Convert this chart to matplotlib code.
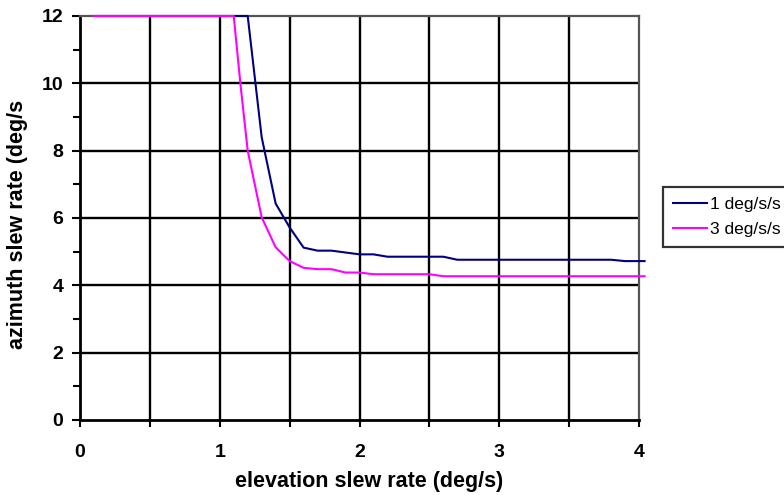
import numpy as np
import matplotlib.pyplot as plt

plt.rcParams['font.family'] = ['Liberation Sans', 'DejaVu Sans']

# elevation slew rate (deg/s) / azimuth slew rate (deg/s)
el_1 = [0.1, 1.2, 1.3, 1.4, 1.5, 1.6, 1.7, 1.8, 2.0, 2.1, 2.2, 2.6, 2.7, 3.8, 3.9, 4.04]
az_1 = [12, 12, 8.4, 6.43, 5.72, 5.12, 5.03, 5.03, 4.92, 4.92, 4.85, 4.85, 4.76, 4.76, 4.72, 4.72]

el_3 = [0.1, 1.1, 1.15, 1.2, 1.3, 1.4, 1.5, 1.6, 1.7, 1.8, 1.9, 2.0, 2.1, 2.5, 2.6, 4.04]
az_3 = [12, 12, 9.9, 8.0, 6.02, 5.13, 4.72, 4.52, 4.48, 4.48, 4.38, 4.38, 4.33, 4.33, 4.27, 4.27]

fig = plt.figure(figsize=(7.84, 4.95), dpi=100)
ax = fig.add_axes([80/784, 75/495, 559/784, 404/495])

ax.set_xlim(0, 4)
ax.set_ylim(0, 12)

# Gitter
for xv in np.arange(0.5, 4.0, 0.5):
    ax.axvline(xv, color='black', lw=1.7, zorder=1)
for yv in np.arange(2, 12, 2):
    ax.axhline(yv, color='black', lw=1.7, zorder=1)

ax.plot(el_1, az_1, color='#000080', lw=1.5, label='1 deg/s/s', clip_on=False, zorder=3)
ax.plot(el_3, az_3, color='#FF00FF', lw=1.5, label='3 deg/s/s', clip_on=False, zorder=3)

ax.set_xticks([0, 1, 2, 3, 4])
ax.set_xticks(np.arange(0, 4.01, 0.5), minor=True)
ax.set_yticks(np.arange(0, 13, 2))
ax.set_yticks(np.arange(0, 13, 1), minor=True)
ax.tick_params(axis='both', which='both', direction='out', width=1.5, colors='black')
ax.tick_params(axis='x', which='major', length=5, pad=12, labelsize=14)
ax.tick_params(axis='x', which='minor', length=5)
ax.tick_params(axis='y', which='major', length=6, pad=6, labelsize=14)
ax.tick_params(axis='y', which='minor', length=5)
for lab in ax.get_xticklabels() + ax.get_yticklabels():
    lab.set_fontweight('bold')

for s in ['left', 'bottom']:
    ax.spines[s].set_linewidth(2)
for s in ['top', 'right']:
    ax.spines[s].set_linewidth(1.6)
    ax.spines[s].set_color('#555555')

ax.set_xlabel('elevation slew rate (deg/s)', fontsize=15.5, fontweight='bold')
ax.xaxis.set_label_coords(0.517, -0.127)
ax.set_ylabel('azimuth slew rate (deg/s', fontsize=15.5, fontweight='bold')
ax.yaxis.set_label_coords(-0.093, 0.485)

leg = ax.legend(loc='upper left', bbox_to_anchor=((663-80)/559, (420-187)/404), fontsize=12.5,
                frameon=True, fancybox=False, handlelength=2.0, handletextpad=0.15,
                borderaxespad=0, borderpad=0.55, labelspacing=0.6)
leg.get_frame().set_edgecolor('black')
leg.get_frame().set_linewidth(1.6)

plt.savefig('out.png', dpi=100)
